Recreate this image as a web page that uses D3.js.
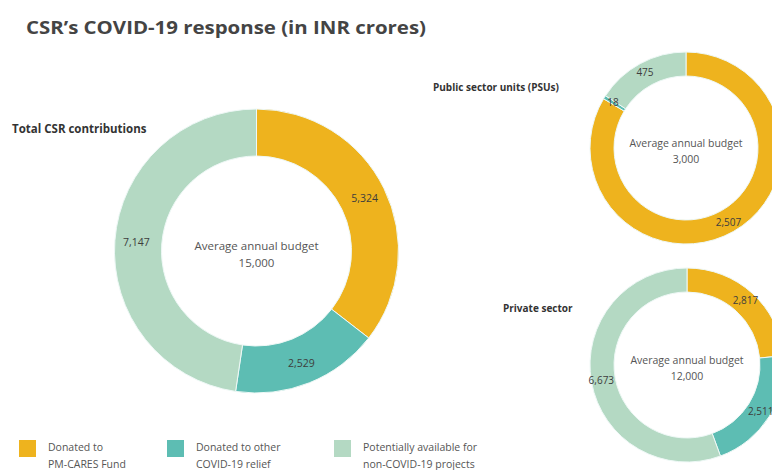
<!DOCTYPE html>
<html>
<head>
<meta charset="utf-8">
<script src="https://cdn.jsdelivr.net/npm/d3@7"></script>
<style>
  html, body { margin: 0; padding: 0; background: #fff; }
  svg { display: block; }
  text { font-family: "Open Sans", "Noto Sans", sans-serif; }
</style>
</head>
<body>
<svg id="chart" width="772" height="470"></svg>
<script>
const title = "CSR\u2019s COVID-19 response (in INR crores)";
const categories = ["Donated to PM-CARES Fund", "Donated to other COVID-19 relief", "Potentially available for non-COVID-19 projects"];
const legendLines = [["Donated to", "PM-CARES Fund"], ["Donated to other", "COVID-19 relief"], ["Potentially available for", "non-COVID-19 projects"]];
const colors = ["#EEB31E", "#5DBDB3", "#B4D9C3"];
const chartNames = ["Total CSR contributions", "Public sector units (PSUs)", "Private sector"];
const totalValues = [5324, 2529, 7147];
const psuValues = [2507, 18, 475];
const privateValues = [2817, 2511, 6673];
const budgets = [15000, 3000, 12000];

const svg = d3.select("#chart");
const fmt = d3.format(",");

svg.append("text")
  .attr("x", 26).attr("y", 34)
  .attr("font-size", 18.5).attr("font-weight", 700)
  .attr("fill", "#444")
  .attr("textLength", 400).attr("lengthAdjust", "spacingAndGlyphs")
  .text(title);

const donuts = [
  { values: totalValues, budget: budgets[0], name: chartNames[0], cx: 256.5, cy: 251, ro: 142, ri: 95,
    nameX: 12, nameY: 133, nameSize: 11.5, labelSize: 10.5, centerSize: 11.5 },
  { values: psuValues, budget: budgets[1], name: chartNames[1], cx: 686, cy: 148, ro: 96, ri: 72,
    nameX: 433, nameY: 91, nameSize: 10, labelSize: 10, centerSize: 10.5 },
  { values: privateValues, budget: budgets[2], name: chartNames[2], cx: 687, cy: 365, ro: 97, ri: 73,
    nameX: 503, nameY: 312, nameSize: 10, labelSize: 10, centerSize: 10.5 }
];

const pie = d3.pie().sort(null).value(d => d);

donuts.forEach(dn => {
  const g = svg.append("g").attr("transform", `translate(${dn.cx},${dn.cy})`);
  const arc = d3.arc().innerRadius(dn.ri).outerRadius(dn.ro);
  const labelArc = d3.arc().innerRadius((dn.ri + dn.ro) / 2 + 2).outerRadius((dn.ri + dn.ro) / 2 + 2);
  const arcs = pie(dn.values);
  g.selectAll("path").data(arcs).join("path")
    .attr("d", arc)
    .attr("fill", (d, i) => colors[i])
    .attr("stroke", "#eef8f6").attr("stroke-width", 1);
  g.selectAll("text.val").data(arcs).join("text")
    .attr("class", "val")
    .attr("transform", d => `translate(${labelArc.centroid(d)})`)
    .attr("text-anchor", "middle").attr("dy", "0.35em")
    .attr("font-size", dn.labelSize).attr("fill", "#3d3d3d")
    .text(d => fmt(d.data));
  g.append("text").attr("text-anchor", "middle").attr("y", -1)
    .attr("font-size", dn.centerSize).attr("fill", "#555")
    .text("Average annual budget");
  g.append("text").attr("text-anchor", "middle").attr("y", dn.centerSize + 4)
    .attr("font-size", dn.centerSize).attr("fill", "#555")
    .text(fmt(dn.budget));
  svg.append("text").attr("x", dn.nameX).attr("y", dn.nameY)
    .attr("font-size", dn.nameSize).attr("font-weight", 700).attr("fill", "#333")
    .text(dn.name);
});

const legendX = [19, 167, 334];
const lg = svg.append("g");
categories.forEach((c, i) => {
  lg.append("rect").attr("x", legendX[i]).attr("y", 440).attr("width", 17).attr("height", 17)
    .attr("fill", colors[i]);
  legendLines[i].forEach((line, j) => {
    lg.append("text").attr("x", legendX[i] + 29).attr("y", 451 + j * 17)
      .attr("font-size", 10.5).attr("fill", "#555")
      .text(line);
  });
});
</script>
</body>
</html>
